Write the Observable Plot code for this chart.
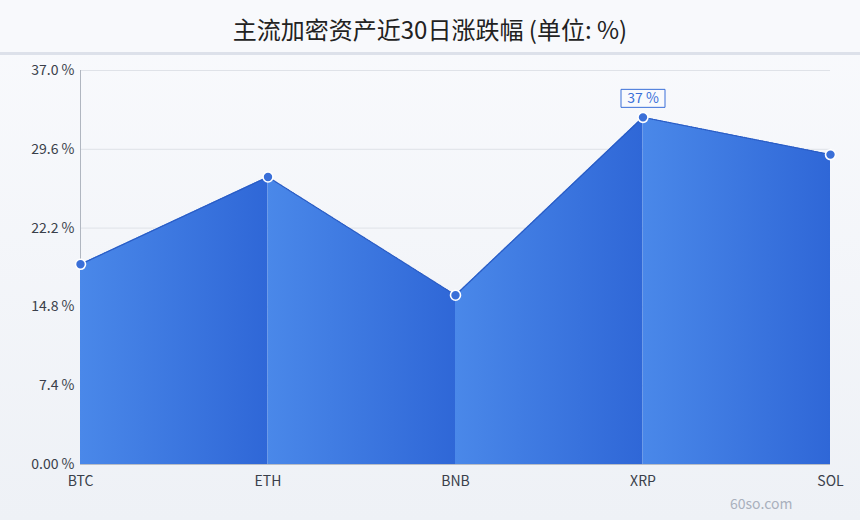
<!DOCTYPE html>
<html>
<head>
<meta charset="utf-8">
<script src="https://cdn.jsdelivr.net/npm/d3@7"></script>
<script src="https://cdn.jsdelivr.net/npm/@observablehq/plot@0.6"></script>
<style>
  html, body { margin: 0; padding: 0; }
  body {
    width: 860px; height: 520px; position: relative; overflow: hidden;
    background: linear-gradient(to bottom, #f9fafd 0%, #eef1f6 100%);
    font-family: "Noto Sans CJK SC", "Noto Sans", sans-serif;
  }
  #title {
    height: 46px; padding-top: 6px; line-height: 46px; text-align: center;
    font-size: 24px; color: #222; background: #f8f9fc;
    border-bottom: 3px solid #dde1ea;
  }
  #wm { position: absolute; left: 730px; top: 493px; font-size: 14px; color: #a9b0bd; }
</style>
</head>
<body>
<div id="title">主流加密资产近30日涨跌幅 (单位: %)</div>
<div id="chart"></div>
<div id="wm">60so.com</div>
<script>
const categories = ["BTC", "ETH", "BNB", "XRP", "SOL"];
const values = [18.8, 27.0, 15.9, 32.6, 29.1];
const yTicks = [0, 7.4, 14.8, 22.2, 29.6, 37.0];
const yTickLabels = ["0.00 %", "7.4 %", "14.8 %", "22.2 %", "29.6 %", "37.0 %"];
const labelCategory = ["XRP"];
const labelText = ["37 %"];

const points = categories.map((c, i) => ({i, c, v: values[i]}));
const segments = [];
for (let i = 0; i < categories.length - 1; i++) {
  segments.push({seg: i, x: i, y: values[i]});
  segments.push({seg: i, x: i + 1, y: values[i + 1]});
}
const labels = labelCategory.map((c, k) => ({i: categories.indexOf(c), v: values[categories.indexOf(c)], t: labelText[k]}));

const boxSymbol = {
  draw(ctx) { ctx.moveTo(-22, -9); ctx.lineTo(22, -9); ctx.lineTo(22, 9); ctx.lineTo(-22, 9); ctx.closePath(); }
};

const chart = Plot.plot({
  width: 860,
  height: 465,
  marginLeft: 80,
  marginRight: 30,
  marginTop: 15,
  marginBottom: 56,
  style: {fontFamily: "\"Noto Sans CJK SC\", \"Noto Sans\", sans-serif", fontSize: "14px", background: "transparent", color: "#3a3f4a"},
  x: {domain: [0, categories.length - 1]},
  y: {domain: [0, 37]},
  marks: [
    Plot.gridY(yTicks, {stroke: "#dfe2e8", strokeOpacity: 1}),
    Plot.ruleY([0], {stroke: "#b8bdc6"}),
    Plot.ruleX([0], {stroke: "#b0b6c0"}),
    Plot.area(segments, {x1: "x", y1: 0, y2: "y", z: "seg", fill: "url(#segGrad)"}),
    Plot.line(points, {x: "i", y: "v", stroke: "#2a5cc4", strokeWidth: 1.2, strokeDasharray: "1,1"}),
    Plot.dot(points, {x: "i", y: "v", r: 5, fill: "#3a6fd8", stroke: "white", strokeWidth: 1.6}),
    Plot.dot(labels, {x: "i", y: "v", symbol: boxSymbol, dy: -19, fill: "#f9fafd", stroke: "#3a6fd8", strokeWidth: 1}),
    Plot.text(labels, {x: "i", y: "v", text: "t", dy: -19, fill: "#3a6fd8", fontSize: 14}),
    Plot.axisY(yTicks, {tickSize: 0, tickPadding: 6, tickFormat: (d) => yTickLabels[yTicks.indexOf(d)], fontSize: 14, fill: "#3a3f4a", label: null}),
    Plot.axisX(categories.map((c, i) => i), {tickSize: 0, tickPadding: 12, tickFormat: d => categories[d], fontSize: 14, fill: "#3a3f4a", label: null})
  ]
});

const defs = d3.select(chart).insert("defs", ":first-child");
const g = defs.append("linearGradient").attr("id", "segGrad").attr("x1", 0).attr("x2", 1).attr("y1", 0).attr("y2", 0);
g.append("stop").attr("offset", "0%").attr("stop-color", "#4a88e9");
g.append("stop").attr("offset", "100%").attr("stop-color", "#2f67d7");

document.getElementById("chart").appendChild(chart);
</script>
</body>
</html>
